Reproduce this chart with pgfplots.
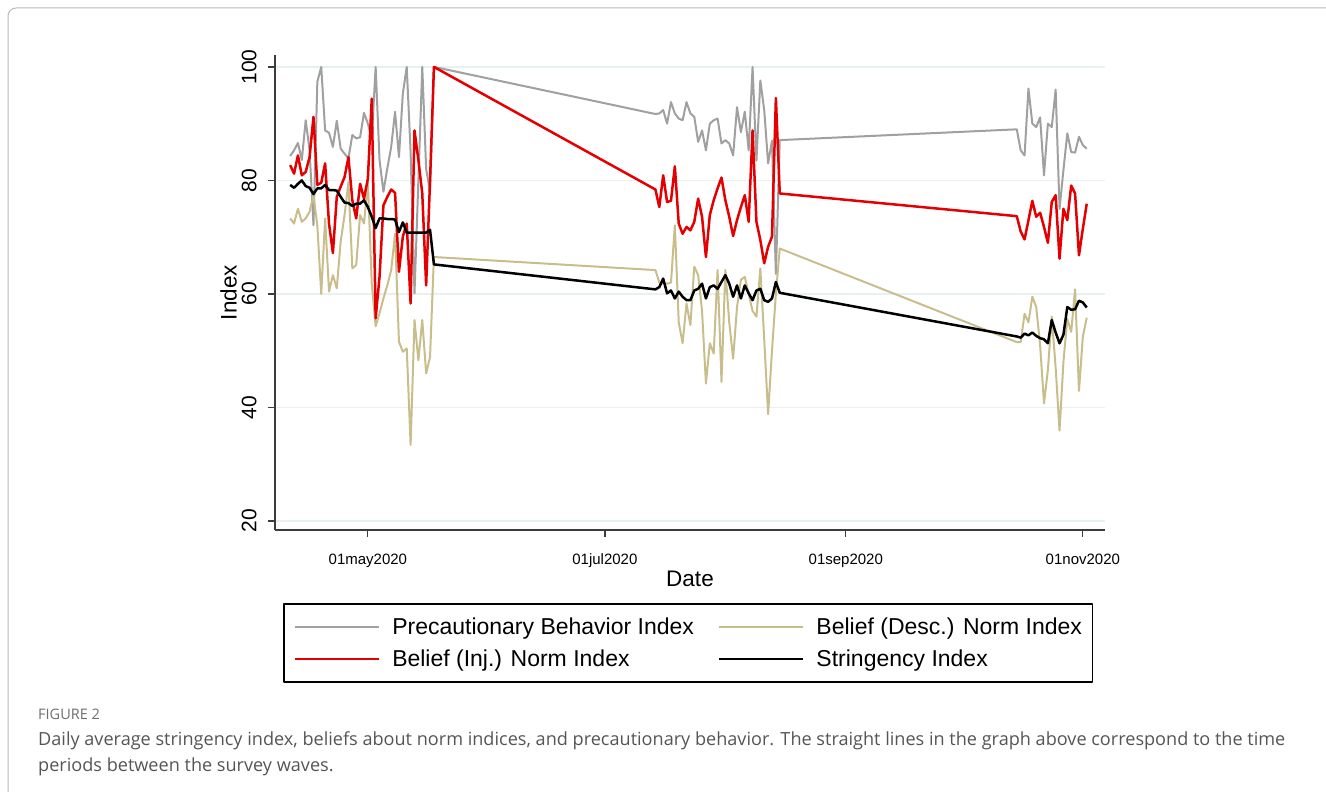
\documentclass[border=0pt]{standalone}
\usepackage{fontspec}
\setmainfont{Liberation Sans}
\newfontfamily\capfont{Open Sans}
\usepackage{pgfplots}
\pgfplotsset{compat=1.18}
\usepackage{pgfplotstable}

\definecolor{pgray}{RGB}{160,160,160}
\definecolor{pred}{RGB}{228,0,0}
\definecolor{ptan}{RGB}{200,190,140}
\definecolor{gridc}{RGB}{232,240,242}
\definecolor{axc}{RGB}{60,60,60}
\definecolor{capc}{RGB}{85,85,85}
\definecolor{figc}{RGB}{110,110,110}
\definecolor{boxc}{RGB}{185,185,185}

\newcommand\tickx{\fontsize{15}{17}\selectfont}
\newcommand\ticky{\fontsize{21}{24}\selectfont}
\newcommand\labf{\fontsize{22.5}{26}\selectfont}
\newcommand\legf{\fontsize{23}{27}\selectfont}

\pgfplotstableread{
d v
-20 84.3
-19 85.3
-18 86.6
-17 83.6
-16 90.6
-15 85.3
-14 72.1
-13 97.4
-12 100
-11 88.8
-10 88.4
-9 85.9
-8 90.5
-7 85.6
-6 84.7
-5 83.9
-4 88.0
-3 87.4
-2 87.6
-1 91.9
0 90.0
1 87.4
2 100
3 83.6
4 78.0
5 82.1
6 85.9
7 92.1
8 84.1
9 95.3
10 100
11 85.0
12 60.1
13 80.0
14 100
15 82.0
16 78.0
17 100
74 91.7
75 91.8
76 92.4
77 90.0
78 93.8
79 91.8
80 90.9
81 90.6
82 93.8
83 91.8
84 91.2
85 86.8
86 88.8
87 85.3
88 90.0
89 90.6
90 90.9
91 86.5
92 87.1
93 86.5
94 84.4
95 92.9
96 88.5
97 92.1
98 85.3
99 100
100 83.5
101 97.6
102 92.4
103 83.0
104 87.0
105 63.5
106 87.1
167 89.0
168 85.3
169 84.4
170 96.2
171 90.0
172 89.4
173 91.1
174 80.9
175 90.0
176 89.4
177 96.0
178 75.0
179 81.8
180 88.3
181 85.0
182 84.9
183 87.7
184 86.2
185 85.6
}\precaut

\pgfplotstableread{
d v
-20 82.7
-19 81.2
-18 84.4
-17 80.9
-16 81.5
-15 84.1
-14 91.2
-13 79.2
-12 79.6
-11 83.0
-10 72.4
-9 67.2
-8 77.1
-7 78.9
-6 80.6
-5 84.1
-4 76.5
-3 73.3
-2 79.4
-1 76.8
0 80.3
1 94.4
2 55.7
3 63.0
4 75.6
5 77.1
6 78.4
7 77.8
8 63.9
9 70.1
10 72.4
11 58.3
12 88.8
13 83.6
14 77.7
15 61.5
16 80.0
17 100
74 78.4
75 75.3
76 80.9
77 76.2
78 76.4
79 82.5
80 72.4
81 70.6
82 71.8
83 71.2
84 72.7
85 76.8
86 73.6
87 66.5
88 73.9
89 76.5
90 78.6
91 80.5
92 76.5
93 73.6
94 70.2
95 73.0
96 75.3
97 77.4
98 72.7
99 88.8
100 72.7
101 69.5
102 65.4
103 68.3
104 70.1
105 94.5
106 77.7
167 73.7
168 71.0
169 69.6
170 73.0
171 76.4
172 73.6
173 74.3
174 71.8
175 69.0
176 76.2
177 77.4
178 66.2
179 75.0
180 73.0
181 79.1
182 77.7
183 66.8
184 71.5
185 75.9
}\injnorm

\pgfplotstableread{
d v
-20 73.3
-19 72.4
-18 75.0
-17 72.7
-16 73.3
-15 74.5
-14 77.4
-13 72.0
-12 60.0
-11 73.3
-10 60.4
-9 63.3
-8 61.0
-7 69.2
-6 73.9
-5 79.7
-4 64.5
-3 65.1
-2 73.9
-1 72.4
0 79.7
1 61.8
2 54.3
3 56.6
4 59.2
5 61.5
6 64.2
7 70.6
8 51.6
9 49.8
10 50.4
11 33.4
12 55.4
13 48.3
14 55.4
15 46.0
16 48.9
17 66.5
74 64.2
75 62.0
76 61.8
77 61.8
78 62.0
79 72.1
80 55.0
81 51.3
82 58.3
83 54.5
84 64.8
85 63.3
86 57.0
87 44.2
88 51.3
89 49.5
90 64.2
91 44.5
92 64.2
93 55.0
94 48.6
95 57.7
96 62.5
97 63.0
98 60.0
99 57.0
100 56.0
101 64.5
102 52.0
103 38.8
104 50.0
105 60.0
106 68.0
167 51.5
168 51.5
169 56.5
170 55.0
171 59.5
172 57.7
173 51.0
174 40.7
175 46.6
176 56.0
177 47.0
178 35.9
179 48.0
180 55.6
181 53.3
182 60.8
183 42.9
184 52.5
185 55.8
}\descnorm

\pgfplotstableread{
d v
-20 79.2
-19 78.7
-18 79.4
-17 80.0
-16 79.0
-15 78.7
-14 77.6
-13 78.6
-12 78.6
-11 79.2
-10 78.3
-9 78.3
-8 78.2
-7 77.1
-6 76.1
-5 76.0
-4 75.5
-3 75.9
-2 75.9
-1 76.5
0 75.3
1 73.6
2 71.6
3 73.3
4 73.3
5 73.2
6 73.2
7 73.1
8 70.9
9 72.6
10 70.8
11 70.8
12 70.8
13 70.8
14 70.8
15 70.8
16 71.3
17 65.2
74 60.8
75 61.2
76 62.7
77 60.1
78 60.6
79 59.2
80 60.4
81 59.5
82 58.9
83 58.9
84 60.6
85 60.9
86 61.8
87 59.2
88 61.2
89 61.5
90 60.9
91 62.1
92 63.3
93 61.8
94 59.5
95 61.5
96 59.2
97 61.5
98 60.1
99 58.9
100 60.6
101 60.9
102 58.9
103 58.6
104 59.2
105 62.1
106 60.2
167 52.5
168 52.3
169 53.0
170 52.7
171 53.2
172 52.6
173 52.2
174 52.0
175 51.3
176 55.4
177 53.2
178 51.3
179 52.8
180 57.7
181 57.2
182 57.3
183 58.8
184 58.5
185 57.6
}\stringency

\begin{document}
\begin{tikzpicture}
\useasboundingbox (0,0) rectangle (1326pt,792pt);
\draw[boxc, line width=1pt, rounded corners=8pt] (8pt,-30pt) rectangle (1356pt,784pt);
\begin{axis}[
  at={(275pt,262pt)}, anchor=south west,
  scale only axis, width=830pt, height=475pt,
  xmin=-23.9, xmax=189.7, ymin=18.4, ymax=102.1,
  axis x line*=bottom, axis y line*=left,
  axis line style={line width=1.6pt, color=axc},
  xtick={0,61,123,184},
  xticklabels={01may2020,01jul2020,01sep2020,01nov2020},
  ytick={20,40,60,80,100},
  tick align=outside, major tick length=7pt,
  tick style={line width=1.2pt, color=axc},
  ymajorgrids, grid style={line width=1.2pt, color=gridc},
  /pgf/number format/assume math mode=true,
  xticklabel style={font=\tickx, yshift=-13pt},
  yticklabel style={font=\ticky, xshift=-8pt, rotate=90, anchor=south},
  xlabel={Date}, xlabel style={font=\labf, yshift=3pt},
  ylabel={Index}, ylabel style={font=\labf, yshift=-2pt},
  line join=round,
  legend columns=2,
  legend cell align=left,
  legend image code/.code={\draw[#1] (0pt,0pt) -- (84pt,0pt);},
  legend style={at={(0.498,-0.1537)}, anchor=north, draw=black, line width=1.6pt,
    font=\legf, inner xsep=9.5pt, inner ysep=13pt,
    nodes={inner sep=1pt, anchor=west},
    row sep=12pt,
    /tikz/every odd column/.append style={column sep=11pt},
    /tikz/every even column/.append style={column sep=23pt}},
]
\addplot[pgray, line width=2pt] table[x=d,y=v]{\precaut};
\addlegendentry{Precautionary Behavior Index}
\addplot[ptan, line width=2pt] table[x=d,y=v]{\descnorm};
\addlegendentry{Belief (Desc.) Norm Index}
\addplot[pred, line width=2.5pt] table[x=d,y=v]{\injnorm};
\addlegendentry{Belief (Inj.) Norm Index}
\addplot[black, line width=2.5pt] table[x=d,y=v]{\stringency};
\addlegendentry{Stringency Index}
\end{axis}
\node[anchor=base west, inner sep=0pt, font=\capfont\fontsize{14.5}{17}\selectfont, text=figc] at (38pt,72pt) {FIGURE 2};
\node[anchor=base west, inner sep=0pt, font=\capfont\fontsize{18.1}{22}\selectfont, text=capc] at (38pt,46pt) {Daily average stringency index, beliefs about norm indices, and precautionary behavior. The straight lines in the graph above correspond to the time};
\node[anchor=base west, inner sep=0pt, font=\capfont\fontsize{18.1}{22}\selectfont, text=capc] at (38pt,20pt) {periods between the survey waves.};
\end{tikzpicture}
\end{document}
